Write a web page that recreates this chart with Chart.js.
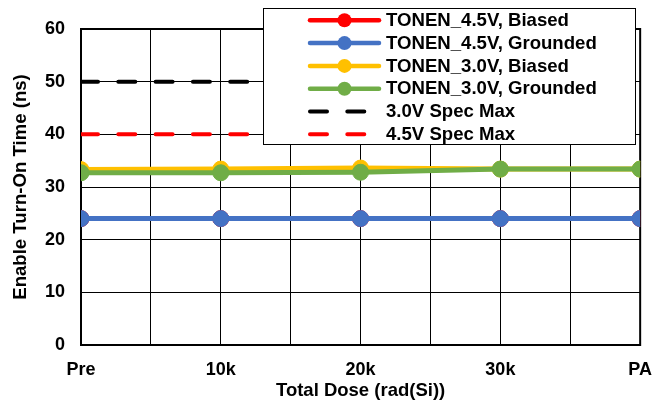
<!DOCTYPE html>
<html>
<head>
<meta charset="utf-8">
<script src="https://cdn.jsdelivr.net/npm/chart.js@4/dist/chart.umd.min.js"></script>
<style>
html,body{margin:0;padding:0;background:#fff;}
#wrap{width:666px;height:406px;position:relative;}
</style>
</head>
<body>
<div id="wrap"><canvas id="c" width="666" height="406"></canvas></div>
<script>
const categories = ["Pre", "10k", "20k", "30k", "PA"];
const yTicks = [0, 10, 20, 30, 40, 50, 60];
const tonen45Biased   = [24.0, 24.0, 24.0, 24.0, 24.0];
const tonen45Grounded = [24.0, 24.0, 24.0, 24.0, 24.0];
const tonen30Biased   = [33.3, 33.4, 33.6, 33.4, 33.4];
const tonen30Grounded = [32.7, 32.7, 32.8, 33.4, 33.4];
const spec30Max = [50, 50, 50, 50, 50];
const spec45Max = [40, 40, 40, 40, 40];
const seriesNames = ["TONEN_4.5V, Biased", "TONEN_4.5V, Grounded", "TONEN_3.0V, Biased", "TONEN_3.0V, Grounded", "3.0V Spec Max", "4.5V Spec Max"];

const FONT = '"Liberation Sans", Arial, sans-serif';
const pts = arr => arr.map((v, i) => ({x: i, y: v}));

function lineDs(label, data, color, order) {
  return {
    label, data: pts(data), borderColor: color, backgroundColor: color,
    borderWidth: 5, pointRadius: 8, pointHoverRadius: 8, pointBorderWidth: 1,
    pointBorderColor: color, pointBackgroundColor: color, order, tension: 0, isMarker: true
  };
}
function dashDs(label, data, color, order) {
  return {
    label, data: pts(data), borderColor: color, backgroundColor: color,
    borderWidth: 4, borderDash: [17, 20.3], borderCapStyle: 'round', pointRadius: 0, order, isMarker: false
  };
}

const datasets = [
  lineDs(seriesNames[0], tonen45Biased, '#FF0000', 3),
  lineDs(seriesNames[1], tonen45Grounded, '#4472C4', 2),
  lineDs(seriesNames[2], tonen30Biased, '#FFC000', 1),
  lineDs(seriesNames[3], tonen30Grounded, '#70AD47', 0),
  dashDs(seriesNames[4], spec30Max, '#000000', 4),
  dashDs(seriesNames[5], spec45Max, '#FF0000', 5)
];

const borderPlugin = {
  id: 'plotBorder',
  beforeDatasetsDraw(chart) {
    const {ctx, chartArea: a} = chart;
    ctx.save();
    ctx.strokeStyle = '#000';
    ctx.lineWidth = 2;
    ctx.strokeRect(a.left, a.top, a.right - a.left, a.bottom - a.top);
    ctx.restore();
  }
};

const legendPlugin = {
  id: 'boxLegend',
  afterDraw(chart) {
    const {ctx} = chart;
    const bx = 263, by = 8, bw = 373, bh = 137;
    ctx.save();
    ctx.fillStyle = '#fff';
    ctx.fillRect(bx, by, bw, bh);
    ctx.strokeStyle = '#000';
    ctx.lineWidth = 1;
    ctx.strokeRect(bx + 0.5, by + 0.5, bw - 1, bh - 1);
    const y0 = 20.3, step = 22.8;
    chart.data.datasets.forEach((ds, i) => {
      const y = y0 + i * step;
      ctx.strokeStyle = ds.borderColor;
      ctx.lineCap = 'round';
      ctx.lineWidth = ds.isMarker ? 4.5 : 4;
      ctx.beginPath();
      if (ds.isMarker) {
        ctx.setLineDash([]);
        ctx.moveTo(310, y); ctx.lineTo(379, y);
        ctx.stroke();
        ctx.fillStyle = ds.borderColor;
        ctx.beginPath();
        ctx.arc(344.5, y, 7, 0, Math.PI * 2);
        ctx.fill();
      } else {
        ctx.setLineDash([17, 20.3]);
        ctx.moveTo(310, y); ctx.lineTo(366, y);
        ctx.stroke();
        ctx.setLineDash([]);
      }
      ctx.fillStyle = '#000';
      ctx.font = 'bold 18.6px ' + FONT;
      ctx.textBaseline = 'middle';
      ctx.textAlign = 'left';
      ctx.fillText(ds.label, 386, y + 0.5);
    });
    ctx.restore();
  }
};

new Chart(document.getElementById('c'), {
  type: 'line',
  data: {datasets},
  options: {
    responsive: false,
    animation: false,
    devicePixelRatio: 1,
    layout: {padding: {top: 29, right: 25, left: 0, bottom: 0}},
    plugins: {legend: {display: false}, tooltip: {enabled: false}},
    scales: {
      x: {
        type: 'linear', min: 0, max: categories.length - 1,
        afterFit(s) { s.height = 61; },
        ticks: {
          stepSize: 0.5, autoSkip: false, maxRotation: 0, padding: 14,
          color: '#000', font: {family: FONT, size: 18, weight: 'bold'},
          callback: v => Number.isInteger(v) ? categories[v] : ''
        },
        grid: {color: '#000', lineWidth: 1, drawTicks: false},
        border: {display: false},
        title: {display: true, text: 'Total Dose (rad(Si))', color: '#000',
          font: {family: FONT, size: 18.5, weight: 'bold'}, padding: {top: 0, bottom: 4}}
      },
      y: {
        min: yTicks[0], max: yTicks[yTicks.length - 1],
        afterFit(s) { s.width = 81; },
        afterBuildTicks(s) { s.ticks = yTicks.map(v => ({value: v})); },
        ticks: {padding: 16, color: '#000', font: {family: FONT, size: 18, weight: 'bold'}},
        grid: {color: '#000', lineWidth: 1, drawTicks: false},
        border: {display: false},
        title: {display: true, text: 'Enable Turn-On Time (ns)', color: '#000',
          font: {family: FONT, size: 18.6, weight: 'bold'}, padding: {top: 10, bottom: 0}}
      }
    }
  },
  plugins: [borderPlugin, legendPlugin]
});
</script>
</body>
</html>
